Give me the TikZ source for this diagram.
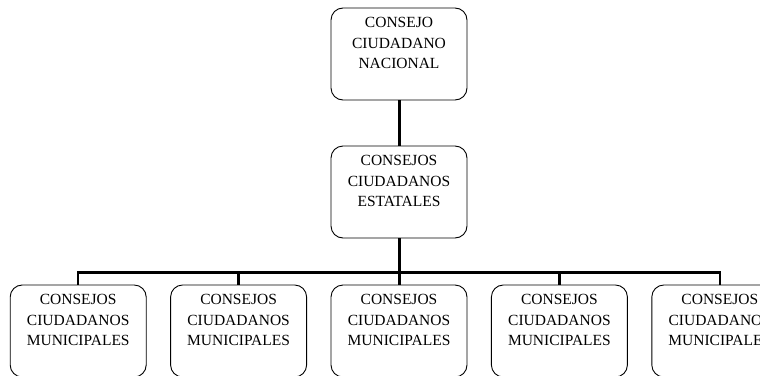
\documentclass[tikz,border=0pt]{standalone}
\usepackage{fontspec}
\setmainfont{Liberation Serif}
\usepackage{tikz}
\usetikzlibrary{positioning, calc}
\tikzstyle{council} = [rectangle, rounded corners=12pt, draw=black, line width=0.9pt, minimum width=136pt, text width=130pt, inner xsep=3pt, inner ysep=8.5pt, text height=11pt, text depth=64pt, align=center, font=\fontsize{15.5}{20.5}\selectfont]
\tikzstyle{trunk} = [line width=3pt]
\tikzstyle{branch} = [line width=2.4pt]

\begin{document}
\begin{tikzpicture}[node distance=138pt]
    \useasboundingbox (0,0) rectangle (760pt,-375pt);
    \clip (0,0) rectangle (760pt,-375pt);
    \node (1) [council] at (399pt,-54pt) {CONSEJO\\CIUDADANO\\NACIONAL};
    \node (2) [council, below of=1] {CONSEJOS\\CIUDADANOS\\ESTATALES};
    \node (3) [council, below of=2, yshift=-1pt] {CONSEJOS\\CIUDADANOS\\MUNICIPALES};
    \node (m2) [council, left=23.5pt of 3] {CONSEJOS\\CIUDADANOS\\MUNICIPALES};
    \node (m1) [council, left=23.5pt of m2] {CONSEJOS\\CIUDADANOS\\MUNICIPALES};
    \node (m4) [council, right=23.5pt of 3] {CONSEJOS\\CIUDADANOS\\MUNICIPALES};
    \node (m5) [council, right=23.5pt of m4] {CONSEJOS\\CIUDADANOS\\MUNICIPALES};
    \draw [trunk] (1) -- (2);
    \draw [trunk] (2) -- ($(2.south)+(0,-34pt)$) coordinate (bar) -- (3);
    \draw [branch] (bar) -| (m2);
    \draw [branch] (bar) -| (m1);
    \draw [branch] (bar) -| (m4);
    \draw [branch] (bar) -| (m5);
  \end{tikzpicture}
\end{document}
